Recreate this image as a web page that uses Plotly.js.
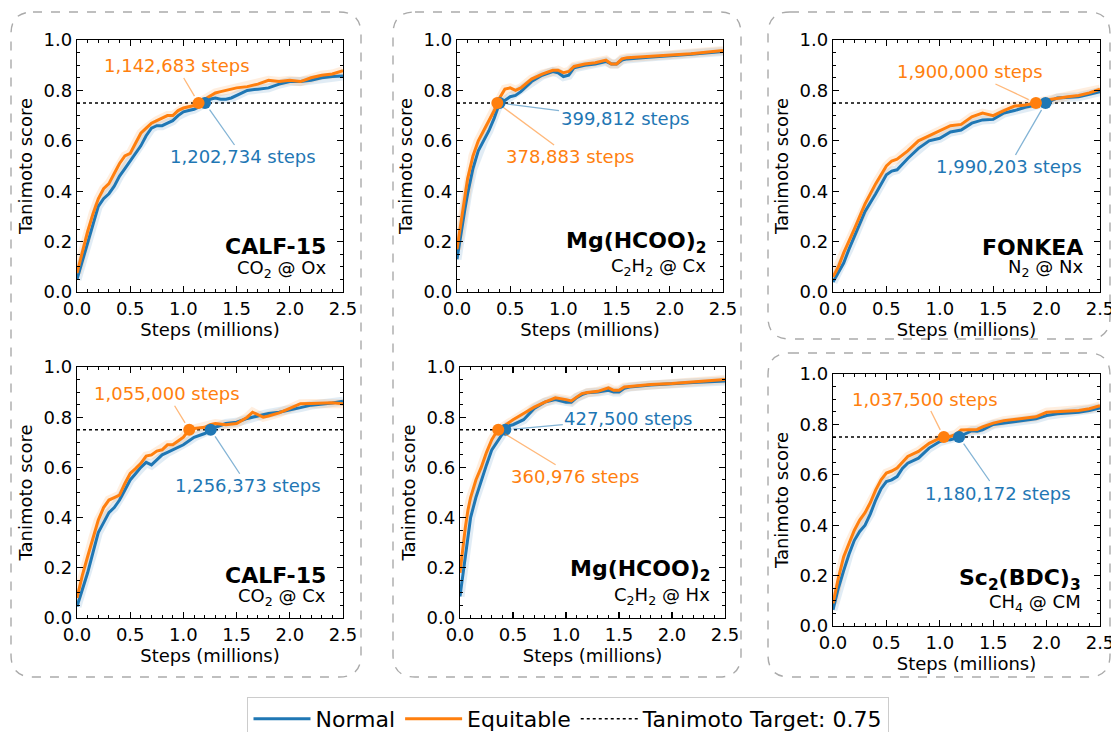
<!DOCTYPE html>
<html><head><meta charset="utf-8">
<script src="https://cdn.plot.ly/plotly-3.0.1.min.js"></script>
<style>body{margin:0;background:#fff}#chart{width:1111px;height:732px}</style>
</head><body><div id="chart"></div>
<script>
// ---------- data ----------
const xP1 = [0,0.05,0.1,0.15,0.2,0.25,0.3,0.35,0.4,0.45,0.5,0.55,0.6,0.65,0.7,0.75,0.8,0.85,0.9,0.95,1.0,1.05,1.1,1.15,1.2,1.25,1.3,1.35,1.4,1.45,1.5,1.6,1.7,1.8,1.9,2.0,2.1,2.2,2.3,2.4,2.5];
const equitP1 = [0.075,0.16,0.24,0.31,0.37,0.41,0.43,0.47,0.51,0.54,0.55,0.59,0.63,0.65,0.67,0.68,0.69,0.70,0.70,0.72,0.73,0.735,0.74,0.752,0.765,0.78,0.79,0.795,0.80,0.805,0.81,0.815,0.825,0.84,0.835,0.84,0.835,0.85,0.86,0.865,0.878];
const normalP1 = [0.05,0.12,0.19,0.27,0.34,0.37,0.39,0.42,0.46,0.49,0.52,0.55,0.58,0.62,0.65,0.66,0.66,0.67,0.68,0.70,0.715,0.72,0.725,0.735,0.748,0.765,0.77,0.765,0.765,0.77,0.78,0.80,0.805,0.81,0.825,0.835,0.835,0.84,0.85,0.855,0.857];

const xP2 = [0,0.025,0.05,0.075,0.1,0.15,0.2,0.25,0.3,0.35,0.4,0.45,0.5,0.55,0.6,0.7,0.8,0.9,0.95,1.0,1.05,1.1,1.2,1.3,1.4,1.45,1.5,1.55,1.6,1.8,2.0,2.2,2.5];
const equitP2 = [0.17,0.24,0.30,0.38,0.45,0.54,0.60,0.64,0.68,0.72,0.77,0.805,0.81,0.80,0.81,0.845,0.865,0.88,0.88,0.87,0.875,0.895,0.905,0.91,0.92,0.905,0.905,0.925,0.93,0.935,0.94,0.945,0.958];
const normalP2 = [0.13,0.20,0.27,0.33,0.39,0.49,0.56,0.60,0.64,0.69,0.75,0.76,0.775,0.78,0.795,0.835,0.86,0.875,0.87,0.855,0.86,0.89,0.90,0.905,0.915,0.905,0.905,0.92,0.925,0.932,0.937,0.943,0.954];

const xP3 = [0,0.05,0.1,0.15,0.2,0.3,0.4,0.5,0.55,0.6,0.7,0.8,0.9,1.0,1.1,1.2,1.3,1.4,1.5,1.6,1.7,1.8,1.9,2.0,2.1,2.2,2.3,2.4,2.5];
const equitP3 = [0.06,0.10,0.155,0.20,0.25,0.35,0.43,0.50,0.52,0.527,0.56,0.60,0.62,0.637,0.66,0.665,0.695,0.71,0.70,0.72,0.738,0.742,0.75,0.762,0.77,0.775,0.78,0.79,0.805];
const normalP3 = [0.04,0.08,0.115,0.17,0.22,0.32,0.39,0.465,0.48,0.485,0.53,0.57,0.60,0.61,0.635,0.643,0.67,0.683,0.685,0.71,0.72,0.733,0.742,0.751,0.77,0.772,0.775,0.785,0.795];

const xP4 = [0,0.05,0.1,0.15,0.2,0.25,0.3,0.35,0.4,0.45,0.5,0.55,0.6,0.65,0.7,0.75,0.8,0.85,0.9,0.95,1.0,1.05,1.1,1.2,1.25,1.3,1.4,1.5,1.6,1.65,1.75,1.8,1.9,2.0,2.1,2.2,2.3,2.4,2.5];
const equitP4 = [0.08,0.17,0.245,0.32,0.39,0.44,0.47,0.48,0.49,0.536,0.576,0.595,0.616,0.645,0.65,0.665,0.67,0.69,0.69,0.705,0.72,0.748,0.755,0.76,0.77,0.775,0.77,0.775,0.80,0.82,0.80,0.805,0.817,0.835,0.854,0.855,0.857,0.858,0.854];
const normalP4 = [0.046,0.11,0.18,0.26,0.34,0.38,0.42,0.44,0.47,0.51,0.55,0.575,0.60,0.62,0.61,0.63,0.65,0.66,0.67,0.68,0.69,0.705,0.72,0.735,0.749,0.76,0.775,0.78,0.795,0.80,0.81,0.815,0.82,0.828,0.838,0.848,0.852,0.857,0.864];

const xP5 = [0,0.025,0.05,0.075,0.1,0.15,0.2,0.25,0.3,0.35,0.4,0.45,0.5,0.6,0.7,0.8,0.9,1.0,1.05,1.1,1.15,1.2,1.3,1.4,1.45,1.5,1.55,1.6,1.8,2.0,2.2,2.5];
const equitP5 = [0.18,0.28,0.36,0.43,0.48,0.55,0.60,0.66,0.71,0.745,0.76,0.775,0.79,0.815,0.84,0.86,0.877,0.87,0.865,0.88,0.894,0.898,0.903,0.917,0.907,0.907,0.92,0.922,0.93,0.934,0.94,0.95];
const normalP5 = [0.086,0.17,0.245,0.33,0.40,0.48,0.55,0.61,0.67,0.70,0.73,0.765,0.77,0.79,0.835,0.86,0.87,0.86,0.86,0.878,0.89,0.897,0.90,0.907,0.90,0.90,0.915,0.92,0.928,0.934,0.938,0.944];

const xP6 = [0,0.05,0.1,0.15,0.2,0.25,0.3,0.35,0.4,0.45,0.5,0.55,0.6,0.65,0.7,0.8,0.9,1.0,1.05,1.1,1.15,1.2,1.3,1.35,1.4,1.5,1.6,1.7,1.8,1.9,2.0,2.1,2.2,2.3,2.4,2.5];
const equitP6 = [0.09,0.19,0.275,0.33,0.38,0.42,0.45,0.49,0.54,0.58,0.607,0.615,0.627,0.65,0.673,0.693,0.725,0.745,0.752,0.752,0.76,0.778,0.78,0.78,0.79,0.805,0.815,0.82,0.825,0.83,0.848,0.85,0.852,0.855,0.862,0.874];
const normalP6 = [0.064,0.15,0.22,0.285,0.34,0.375,0.40,0.445,0.50,0.545,0.573,0.58,0.593,0.625,0.646,0.666,0.706,0.732,0.738,0.739,0.745,0.755,0.775,0.773,0.778,0.80,0.805,0.81,0.815,0.822,0.835,0.842,0.845,0.848,0.855,0.865];

const panelNames = ['CALF-15','Mg(HCOO)<sub>2</sub>','FONKEA','CALF-15','Mg(HCOO)<sub>2</sub>','Sc<sub>2</sub>(BDC)<sub>3</sub>'];
const panelConditions = ['CO<sub>2</sub> @ Ox','C<sub>2</sub>H<sub>2</sub> @ Cx','N<sub>2</sub> @ Nx','CO<sub>2</sub> @ Cx','C<sub>2</sub>H<sub>2</sub> @ Hx','CH<sub>4</sub> @ CM'];
const equitableSteps = [1142683, 378883, 1900000, 1055000, 360976, 1037500];
const normalSteps = [1202734, 399812, 1990203, 1256373, 427500, 1180172];
const TARGET = 0.75;
const xTicks = [0, 0.5, 1.0, 1.5, 2.0, 2.5];
const yTicks = [0, 0.2, 0.4, 0.6, 0.8, 1.0];
const seriesNames = ['Normal', 'Equitable', 'Tanimoto Target: 0.75'];

// ---------- layout / styling ----------
const W = 1111, H = 732;
const FONT = 'DejaVu Sans, Liberation Sans, sans-serif';
const BLUE = '#1f77b4', ORANGE = '#ff7f0e';
const panels = [
  {x: xP1, n: normalP1, e: equitP1, box: [77, 343, 40, 292], eOff: [-22, -37], nOff: [38, 54], lab: [46, 23], inset: 15},
  {x: xP2, n: normalP2, e: equitP2, box: [457, 723, 40, 292], eOff: [73, 54], nOff: [125, 16], lab: [50, 25], inset: 15},
  {x: xP3, n: normalP3, e: equitP3, box: [833, 1100, 40, 292], eOff: [-66, -31], nOff: [-37, 64], lab: [45, 24], inset: 15},
  {x: xP4, n: normalP4, e: equitP4, box: [77, 343, 367, 618], eOff: [-22, -36], nOff: [37, 56], lab: [43, 21], inset: 15},
  {x: xP5, n: normalP5, e: equitP5, box: [460, 725, 367, 618], eOff: [77, 47], nOff: [123, -11], lab: [48, 22], inset: 13},
  {x: xP6, n: normalP6, e: equitP6, box: [833, 1100, 374, 626], eOff: [-19, -38], nOff: [39, 56], lab: [47, 23], inset: 17}
];

const traces = [];
const layout = {
  width: W, height: H, margin: {l: 0, r: 0, t: 0, b: 0, autoexpand: false},
  paper_bgcolor: '#fff', plot_bgcolor: '#fff',
  font: {family: FONT, size: 18, color: '#000'},
  showlegend: true,
  legend: {orientation: 'h', xref: 'container', yref: 'container', x: 0.5117, xanchor: 'center',
           y: (H - 697) / H, yanchor: 'top',
           bordercolor: '#cccccc', borderwidth: 1, font: {family: FONT, size: 22}, traceorder: 'normal',
           itemwidth: 57},
  annotations: [], shapes: []
};

panels.forEach((p, i) => {
  const k = i + 1;
  const xa = 'x' + (k === 1 ? '' : k), ya = 'y' + (k === 1 ? '' : k);
  const xk = 'xaxis' + (k === 1 ? '' : k), yk = 'yaxis' + (k === 1 ? '' : k);
  const [l, r, t, b] = p.box;
  const axisCommon = {
    showgrid: false, zeroline: false, showline: true, linecolor: '#000', linewidth: 1.3,
    mirror: 'allticks', ticks: 'inside', ticklen: 6, tickwidth: 1.2, tickcolor: '#000',
    tickfont: {family: FONT, size: 18}, tickformat: '.1f', fixedrange: true, ticklabeloverflow: 'allow',
    automargin: false
  };
  layout[xk] = Object.assign({}, axisCommon, {
    domain: [l / W, r / W], anchor: ya, range: [0, 2.5], tickvals: xTicks,
    minor: {dtick: 0.1, ticks: 'inside', ticklen: 3, tickwidth: 1, tickcolor: '#000', showgrid: false},
    title: {text: 'Steps (millions)', font: {family: FONT, size: 18}, standoff: 4}
  });
  layout[yk] = Object.assign({}, axisCommon, {
    domain: [(H - b) / H, (H - t) / H], anchor: xa, range: [0, 1], tickvals: yTicks,
    minor: {dtick: 0.05, ticks: 'inside', ticklen: 3, tickwidth: 1, tickcolor: '#000', showgrid: false},
    title: {text: 'Tanimoto score', font: {family: FONT, size: 18}, standoff: 6}
  });

  // target line
  traces.push({x: [0, 2.5], y: [TARGET, TARGET], xaxis: xa, yaxis: ya, mode: 'lines',
    line: {color: '#000', width: 1.5, dash: 'dot'}, name: seriesNames[2], legendrank: 3,
    showlegend: i === 0, hoverinfo: 'skip'});
  // soft bands (styling only)
  traces.push({x: p.x, y: p.n, xaxis: xa, yaxis: ya, mode: 'lines', line: {color: BLUE, width: 9},
    opacity: 0.13, showlegend: false, hoverinfo: 'skip'});
  traces.push({x: p.x, y: p.e, xaxis: xa, yaxis: ya, mode: 'lines', line: {color: ORANGE, width: 9},
    opacity: 0.13, showlegend: false, hoverinfo: 'skip'});
  // main lines
  traces.push({x: p.x, y: p.n, xaxis: xa, yaxis: ya, mode: 'lines', line: {color: BLUE, width: 3},
    name: seriesNames[0], legendrank: 1, showlegend: i === 0});
  traces.push({x: p.x, y: p.e, xaxis: xa, yaxis: ya, mode: 'lines', line: {color: ORANGE, width: 3},
    name: seriesNames[1], legendrank: 2, showlegend: i === 0});
  // crossing markers
  traces.push({x: [normalSteps[i] / 1e6], y: [TARGET], xaxis: xa, yaxis: ya, mode: 'markers',
    marker: {color: BLUE, size: 12}, showlegend: false, cliponaxis: false});
  traces.push({x: [equitableSteps[i] / 1e6], y: [TARGET], xaxis: xa, yaxis: ya, mode: 'markers',
    marker: {color: ORANGE, size: 12}, showlegend: false, cliponaxis: false});

  // step annotations
  const fmt = v => v.toLocaleString('en-US') + ' steps';
  layout.annotations.push({xref: xa, yref: ya, x: equitableSteps[i] / 1e6, y: TARGET,
    ax: p.eOff[0], ay: p.eOff[1], text: fmt(equitableSteps[i]), showarrow: true, arrowhead: 0,
    arrowwidth: 1.3, arrowcolor: 'rgba(255,127,14,0.55)', standoff: 8,
    font: {family: FONT, size: 18, color: ORANGE}});
  layout.annotations.push({xref: xa, yref: ya, x: normalSteps[i] / 1e6, y: TARGET,
    ax: p.nOff[0], ay: p.nOff[1], text: fmt(normalSteps[i]), showarrow: true, arrowhead: 0,
    arrowwidth: 1.3, arrowcolor: 'rgba(31,119,180,0.55)', standoff: 8,
    font: {family: FONT, size: 18, color: BLUE}});
  // panel labels
  layout.annotations.push({xref: xa + ' domain', yref: ya + ' domain', x: 1, y: 0,
    xanchor: 'right', yanchor: 'middle', xshift: -p.inset, yshift: p.lab[0], showarrow: false,
    text: '<b>' + panelNames[i] + '</b>', font: {family: FONT, size: 22, color: '#000'}});
  layout.annotations.push({xref: xa + ' domain', yref: ya + ' domain', x: 1, y: 0,
    xanchor: 'right', yanchor: 'middle', xshift: -p.inset, yshift: p.lab[1], showarrow: false,
    text: panelConditions[i], font: {family: FONT, size: 18, color: '#000'}});
});

// dashed rounded group boxes
function roundRect(x0, y0, x1, y1, r) {
  const X = v => (v / W).toFixed(5), Y = v => (1 - v / H).toFixed(5);
  return `M ${X(x0 + r)},${Y(y0)} L ${X(x1 - r)},${Y(y0)} Q ${X(x1)},${Y(y0)} ${X(x1)},${Y(y0 + r)} ` +
         `L ${X(x1)},${Y(y1 - r)} Q ${X(x1)},${Y(y1)} ${X(x1 - r)},${Y(y1)} ` +
         `L ${X(x0 + r)},${Y(y1)} Q ${X(x0)},${Y(y1)} ${X(x0)},${Y(y1 - r)} ` +
         `L ${X(x0)},${Y(y0 + r)} Q ${X(x0)},${Y(y0)} ${X(x0 + r)},${Y(y0)} Z`;
}
[[11, 12, 361, 677], [393, 12, 741, 677], [768, 12, 1110, 339], [768, 353, 1110, 677]].forEach(bx => {
  layout.shapes.push({type: 'path', xref: 'paper', yref: 'paper', path: roundRect(bx[0], bx[1], bx[2], bx[3], 22),
    line: {color: '#aaaaaa', width: 1.4, dash: 'dash'}, layer: 'below'});
});

Plotly.newPlot('chart', traces, layout, {displayModeBar: false, staticPlot: true});
</script>
</body></html>
